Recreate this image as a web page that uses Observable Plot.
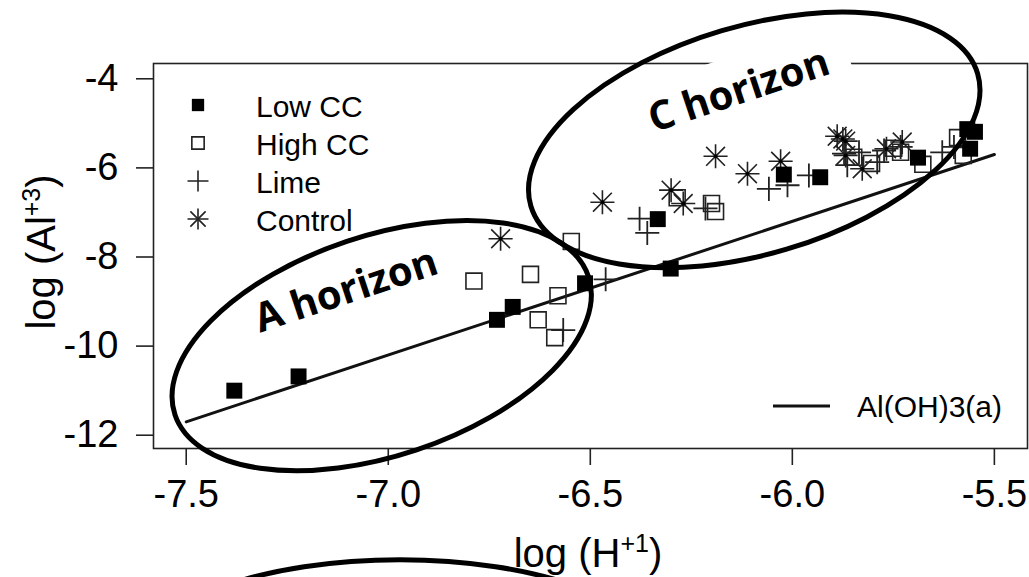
<!DOCTYPE html>
<html>
<head>
<meta charset="utf-8">
<script src="https://cdn.jsdelivr.net/npm/d3@7"></script>
<script src="https://cdn.jsdelivr.net/npm/@observablehq/plot@0.6"></script>
<style>
  html, body { margin: 0; padding: 0; background: #fff; }
  #chart { width: 1029px; height: 577px; overflow: hidden; }
</style>
</head>
<body>
<div id="chart"></div>
<script>
// ---------------- data ----------------
const xTicks = [-7.5, -7.0, -6.5, -6.0, -5.5];
const yTicks = [-12, -10, -8, -6, -4];

const legendLabels = ["Low CC", "High CC", "Lime", "Control"];
const lineLabel = "Al(OH)3(a)";

const lowX  = [-7.381, -7.222, -6.731, -6.692, -6.513, -6.301, -6.333, -6.021, -5.931, -5.689, -5.567, -5.548, -5.560];
const lowY  = [-11.00, -10.68, -9.41, -9.12, -8.59, -8.26, -7.15, -6.15, -6.21, -5.77, -5.13, -5.19, -5.57];

const highX = [-6.788, -6.648, -6.580, -6.629, -6.588, -6.547, -6.285, -6.200, -6.190, -5.848, -5.804, -5.749, -5.732, -5.677, -5.591, -5.577];
const highY = [-8.54, -8.39, -8.87, -9.41, -9.81, -7.65, -6.67, -6.80, -6.98, -5.76, -5.90, -5.56, -5.65, -5.92, -5.32, -5.72];

const limeX = [-6.462, -6.567, -6.378, -6.359, -6.215, -6.058, -6.012, -5.959, -5.872, -5.864, -5.835, -5.790, -5.773, -5.732, -5.629, -5.600];
const limeY = [-8.50, -9.64, -7.14, -7.46, -6.91, -6.47, -6.39, -6.17, -5.68, -5.94, -5.65, -5.87, -5.61, -5.53, -5.65, -5.53];

const controlX = [-6.722, -6.470, -6.300, -6.270, -6.190, -6.111, -6.029, -5.889, -5.875, -5.868, -5.868, -5.827, -5.767, -5.728];
const controlY = [-7.59, -6.77, -6.50, -6.80, -5.74, -6.13, -5.85, -5.29, -5.35, -5.40, -5.72, -6.02, -5.57, -5.42];

// Al(OH)3(a) equilibrium line
const alX = [-7.5, -5.5];
const alY = [-11.7, -5.7];

// annotation ellipses (centres in data units)
const ellipseLabels = ["A horizon", "C horizon"];
const ellipseCX = [-7.015, -6.093];
const ellipseCY = [-10.0, -5.383];
const labelX = [-7.093, -6.121];
const labelY = [-9.04, -4.554];

// ---------------- build ----------------
const pts = (xs, ys) => xs.map((x, i) => ({x, y: ys[i]}));
const low = pts(lowX, lowY), high = pts(highX, highY), lime = pts(limeX, limeY), control = pts(controlX, controlY);
const alLine = pts(alX, alY);

const W = 1029, H = 577;
const font = "'Liberation Sans', Arial, Helvetica, sans-serif";
const ink = "#111";

const chart = Plot.plot({
  width: W, height: H,
  marginLeft: 153, marginRight: 2, marginTop: 63, marginBottom: 129,
  style: {fontFamily: font, background: "#fff", color: "#000", overflow: "visible"},
  x: {domain: [-7.581, -5.418], label: null},
  y: {domain: [-12.298, -3.657], label: null},
  marks: [
    Plot.axisX({ticks: xTicks, tickFormat: d => d.toFixed(1), tickSize: 17, tickPadding: 15, fontSize: 38, stroke: "#222", strokeWidth: 1.6, label: null}),
    Plot.axisY({ticks: yTicks, tickFormat: d => String(d), tickSize: 17, tickPadding: 18, fontSize: 38, stroke: "#222", strokeWidth: 1.6, label: null}),
    Plot.frame({stroke: "#222", strokeWidth: 1.6}),
    Plot.line(alLine, {x: "x", y: "y", stroke: ink, strokeWidth: 3}),
    Plot.dot(high, {x: "x", y: "y", symbol: "square", r: 9, fill: "none", stroke: "#222", strokeWidth: 1.6}),
    Plot.dot(lime, {x: "x", y: "y", symbol: "plus", r: 7.8, stroke: "#222", strokeWidth: 1.8}),
    Plot.dot(control, {x: "x", y: "y", symbol: "plus", r: 7.8, stroke: "#222", strokeWidth: 1.6}),
    Plot.dot(control, {x: "x", y: "y", symbol: "times", r: 8.6, stroke: "#222", strokeWidth: 1.6}),
    Plot.dot(control, {x: "x", y: "y", r: 2, fill: "#000", stroke: "none"}),
    Plot.dot(low, {x: "x", y: "y", symbol: "square", r: 9, fill: "#000", stroke: "none"})
  ]
});
document.getElementById("chart").appendChild(chart);

// ---------------- annotations, legends, axis titles ----------------
const sx = chart.scale("x"), sy = chart.scale("y");
const svg = d3.select(chart);
const g = svg.append("g");

// legend (top-left)
const legX = 198, legTextX = 256, legY0 = 105, legStep = 38;
const legSyms = [
  [{type: d3.symbolSquare, R: 6.95, fill: "#000", stroke: "none"}],
  [{type: d3.symbolSquare, R: 6.95, fill: "none", stroke: "#222"}],
  [{type: d3.symbolPlus, R: 6.8, fill: "none", stroke: "#222"}],
  [{type: d3.symbolPlus, R: 6.8, fill: "none", stroke: "#222"}, {type: d3.symbolTimes, R: 7.0, fill: "none", stroke: "#222"}]
];
legendLabels.forEach((lab, i) => {
  const y = legY0 + i * legStep;
  legSyms[i].forEach(s => {
    g.append("path").attr("d", d3.symbol(s.type, Math.PI * s.R * s.R)())
      .attr("transform", `translate(${legX},${y})`)
      .attr("fill", s.fill).attr("stroke", s.stroke).attr("stroke-width", 1.6);
  });
  g.append("text").attr("x", legTextX).attr("y", y + 1.5).attr("dy", "0.35em").attr("text-anchor", "start")
    .attr("font-family", font).attr("font-size", 30).attr("fill", "#000").text(lab);
});

// legend (bottom-right) for the line
g.append("line").attr("x1", 773).attr("x2", 830).attr("y1", 406).attr("y2", 406)
  .attr("stroke", ink).attr("stroke-width", 3);
g.append("text").attr("x", 857).attr("y", 406).attr("dy", "0.35em").attr("text-anchor", "start")
  .attr("font-family", font).attr("font-size", 30).attr("fill", "#000").text(lineLabel);

// axis titles with superscripts
const xt = g.append("text").attr("x", 588).attr("y", 567).attr("text-anchor", "middle")
  .attr("font-family", font).attr("font-size", 40).attr("fill", "#000");
xt.append("tspan").text("log (H");
xt.append("tspan").attr("font-size", 25).attr("dy", -15).text("+1");
xt.append("tspan").attr("dy", 15).text(")");

const yt = g.append("text").attr("transform", "translate(55,252) rotate(-90)").attr("text-anchor", "middle")
  .attr("font-family", font).attr("font-size", 40).attr("fill", "#000");
yt.append("tspan").text("log (Al");
yt.append("tspan").attr("font-size", 25).attr("dy", -15).text("+3");
yt.append("tspan").attr("dy", 15).text(")");

// horizon labels (C horizon sits on a white text box)
const angle = -18.4;
ellipseLabels.forEach((lab, i) => {
  const px = sx.apply(labelX[i]), py = sy.apply(labelY[i]);
  const tg = g.append("g").attr("transform", `translate(${px},${py}) rotate(${angle})`);
  if (i === 1) tg.append("rect").attr("x", -115).attr("y", -48).attr("width", 230).attr("height", 60).attr("fill", "#fff");
  tg.append("text").attr("text-anchor", "middle").attr("font-family", "'Open Sans', 'DejaVu Sans', sans-serif")
    .attr("font-weight", 700).attr("font-size", 40).attr("fill", "#000").text(lab);
});

// ellipses
const ellipseShapes = [{rx: 218, ry: 110, rot: -18.5}, {rx: 233, ry: 114, rot: -16.5}];
ellipseShapes.forEach((e, i) => {
  const cx = sx.apply(ellipseCX[i]), cy = sy.apply(ellipseCY[i]);
  g.append("ellipse").attr("cx", cx).attr("cy", cy).attr("rx", e.rx).attr("ry", e.ry)
    .attr("transform", `rotate(${e.rot} ${cx} ${cy})`)
    .attr("fill", "none").attr("stroke", "#000").attr("stroke-width", 5);
});
// stray ellipse peeking in at the bottom edge
{
  const cx = sx.apply(-6.97), cy = sy.apply(-17.05);
  g.append("ellipse").attr("cx", cx).attr("cy", cy).attr("rx", 260).attr("ry", 100)
    .attr("fill", "none").attr("stroke", "#000").attr("stroke-width", 5);
}
</script>
</body>
</html>
